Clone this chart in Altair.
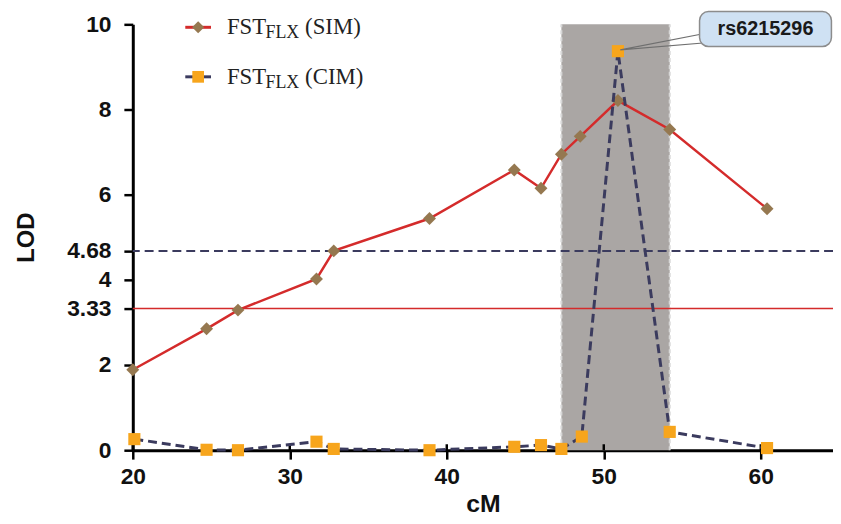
import altair as alt
import pandas as pd

# ---- data ----
sim_cm = [20.0, 24.7, 26.7, 31.7, 32.8, 38.9, 44.3, 46.0, 47.3, 48.5, 50.9, 54.2, 60.4]
sim_lod = [1.89, 2.85, 3.29, 4.02, 4.68, 5.44, 6.58, 6.15, 6.95, 7.37, 8.21, 7.53, 5.67]
cim_cm = [20.1, 24.7, 26.7, 31.7, 32.8, 38.9, 44.3, 46.0, 47.3, 48.6, 50.9, 54.2, 60.4]
cim_lod = [0.26, 0.01, 0.0, 0.20, 0.03, 0.0, 0.08, 0.12, 0.03, 0.32, 9.37, 0.43, 0.05]
thr_cim = 4.68
thr_sim = 3.33
region = [47.3, 54.2]
y_ticks = [0, 2, 3.33, 4, 4.68, 6, 8, 10]
x_ticks = [20, 30, 40, 50, 60]
snp_label = "rs6215296"
snp_box_x = [56.1, 64.5]
snp_box_y = [9.48, 10.3]
pointer_x = [56.5, 51.05, 56.9]
pointer_y = [9.79, 9.40, 9.58]

# legend pieces (pixel positions inside the plot area)
leg_text = ["FST", "FLX", "(SIM)", "FST", "FLX", "(CIM)"]
leg_px = [95, 134, 174, 95, 134, 174]
leg_py = [10, 14, 10, 60, 64, 60]
leg_fs = [23, 18, 23, 23, 18, 23]

RED = "#d42b2b"
NAVY = "#3b3b5e"
BROWN = "#957850"
ORANGE = "#f7a51c"
SHADE = "#aaa6a4"

xs = alt.Scale(domain=[20, 64.6], nice=False, zero=False)
ys = alt.Scale(domain=[0, 10], nice=False)

sim_df = pd.DataFrame({"cM": sim_cm, "LOD": sim_lod})
cim_df = pd.DataFrame({"cM": cim_cm, "LOD": cim_lod})
reg_df = pd.DataFrame({"x": [region[0]], "x2": [region[1]], "y": [0], "y2": [10]})
edge_df = pd.DataFrame({"x": region, "y": [0, 0], "y2": [10, 10]})
thr_df = pd.DataFrame({"y": [thr_cim]})
thr2_df = pd.DataFrame({"y": [thr_sim]})
xtick_df = pd.DataFrame({"x": x_ticks})
box_df = pd.DataFrame({"x": [snp_box_x[0]], "x2": [snp_box_x[1]],
                       "y": [snp_box_y[0]], "y2": [snp_box_y[1]],
                       "tx": [sum(snp_box_x) / 2], "ty": [sum(snp_box_y) / 2],
                       "label": [snp_label]})
ptr_df = pd.DataFrame({"x": pointer_x, "y": pointer_y, "o": [0, 1, 2]})
leg_df = pd.DataFrame({"t": leg_text, "px": leg_px, "py": leg_py, "fs": leg_fs})
legsym_df = pd.DataFrame({"x": [53, 53], "x2": [79, 79], "y": [3, 53],
                          "s": ["SIM", "CIM"]})

X = alt.X("cM:Q", scale=xs,
          axis=alt.Axis(title="cM", values=x_ticks, format="d"))
Y = alt.Y("LOD:Q", scale=ys,
          axis=alt.Axis(title="LOD", values=y_ticks, format=".2~f"))

shade = alt.Chart(reg_df).mark_rect(color=SHADE).encode(
    x=alt.X("x:Q", scale=xs), x2="x2", y=alt.Y("y:Q", scale=ys), y2="y2")
edges = alt.Chart(edge_df).mark_rule(color="#d8d8d8", strokeWidth=2, strokeDash=[4, 3]).encode(
    x=alt.X("x:Q", scale=xs), y=alt.Y("y:Q", scale=ys), y2="y2")
t1 = alt.Chart(thr_df).mark_rule(color=NAVY, strokeWidth=2, strokeDash=[9, 5]).encode(
    y=alt.Y("y:Q", scale=ys))
t2 = alt.Chart(thr2_df).mark_rule(color=RED, strokeWidth=1.5).encode(
    y=alt.Y("y:Q", scale=ys))
# inner half of the crossing x-axis ticks
xin = alt.Chart(xtick_df).mark_rule(color="black", strokeWidth=2.5).encode(
    x=alt.X("x:Q", scale=xs), y=alt.value(424), y2=alt.value(430))

sim_line = alt.Chart(sim_df).mark_line(color=RED, strokeWidth=2.5).encode(x=X, y=Y)
sim_pts = alt.Chart(sim_df).mark_point(shape="diamond", filled=True, color=BROWN,
                                       size=170, opacity=1).encode(x=X, y=Y)
cim_line = alt.Chart(cim_df).mark_line(color=NAVY, strokeWidth=3, strokeDash=[9, 5]).encode(x=X, y=Y)
cim_pts = alt.Chart(cim_df).mark_point(shape="square", filled=True, color=ORANGE,
                                       size=150, opacity=1).encode(x=X, y=Y)

ptr = alt.Chart(ptr_df).mark_line(color="#6f6f6f", strokeWidth=1.2, clip=False).encode(
    x=alt.X("x:Q", scale=xs), y=alt.Y("y:Q", scale=ys), order="o:Q")
box = alt.Chart(box_df).mark_rect(fill="#cfe1f3", stroke="#8c8c8c", strokeWidth=1.5,
                                  cornerRadius=9, clip=False).encode(
    x=alt.X("x:Q", scale=xs), x2="x2", y=alt.Y("y:Q", scale=ys), y2="y2")
box_txt = alt.Chart(box_df).mark_text(font="Liberation Sans", fontWeight="bold",
                                      fontSize=20, color="#1a1a1a", clip=False).encode(
    x=alt.X("tx:Q", scale=xs), y=alt.Y("ty:Q", scale=ys), text="label:N")

leg_lines = alt.Chart(legsym_df).mark_rule(strokeWidth=3).encode(
    x=alt.X("x:Q", scale=None), x2="x2", y=alt.Y("y:Q", scale=None),
    color=alt.Color("s:N", scale=alt.Scale(domain=["SIM", "CIM"], range=[RED, NAVY]), legend=None))
leg_d = alt.Chart(legsym_df.iloc[[0]]).mark_point(shape="diamond", filled=True, color=BROWN,
                                                  size=150, opacity=1).encode(
    x=alt.value(66), y=alt.value(3))
leg_s = alt.Chart(legsym_df.iloc[[1]]).mark_point(shape="square", filled=True, color=ORANGE,
                                                  size=140, opacity=1).encode(
    x=alt.value(66), y=alt.value(53))
leg_t = alt.Chart(leg_df).mark_text(font="Liberation Serif", align="left", baseline="alphabetic",
                                    color="#222222").encode(
    x=alt.X("px:Q", scale=None), y=alt.Y("py:Q", scale=None), text="t:N",
    size=alt.Size("fs:Q", scale=None, legend=None))

chart = alt.layer(
    shade, edges, t1, t2, xin, sim_line, sim_pts, cim_line, cim_pts,
    ptr, box, box_txt, leg_lines, leg_d, leg_s, leg_t
).properties(
    width=707, height=430,
    autosize=alt.AutoSizeParams(type="none"),
    padding={"left": 126, "top": 14, "right": 0, "bottom": 70},
    background="white",
).configure_view(strokeWidth=0).configure_axis(
    grid=False, labelFlush=False,
    domainColor="black", domainWidth=3,
    tickColor="black", tickWidth=2.5, tickSize=9,
    labelFont="Liberation Sans", labelFontWeight="bold", labelFontSize=23, labelColor="#111111",
    titleFont="Liberation Sans", titleFontWeight="bold", titleColor="#111111",
).configure_axisY(
    labelPadding=13, titleFontSize=24, titlePadding=28,
).configure_axisX(
    labelPadding=7, titleFontSize=25, titlePadding=3,
)

chart.save("out.html", embed_options={"renderer": "svg", "actions": False})
